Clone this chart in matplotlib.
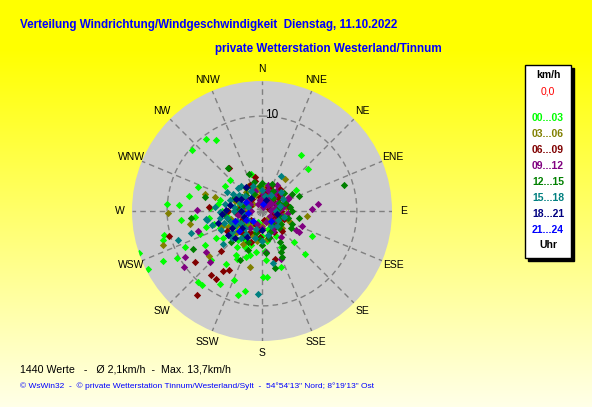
import numpy as np
import matplotlib
matplotlib.use("Agg")
import matplotlib.pyplot as plt
from matplotlib.patches import Rectangle

# wind direction (deg, from N clockwise) and speed (km/h), one pair of lists per time slot
DIR_00_03 = [322, 327, 311, 34.9, 47.4, 313.5, 303.5, 290.6, 281.5, 274, 274, 263.4, 256, 253.5, 251, 243,
             243, 241, 222, 219, 210, 202, 196, 192, 179, 175.7, 160.7, 134, 135, 116, 59, 66, 214, 208, 199,
             188, 175, 152, 245, 239, 226, 265, 254, 250, 279.5, 273, 235, 55, 344, 9.6,
             200, 210, 220, 230, 240, 250, 260, 270, 215, 235, 245, 225, 190, 180, 170, 160, 255, 265, 280,
             290, 205, 195, 150, 240, 100, 60, 20,
             185, 200, 215, 230, 245, 260, 275, 285, 210, 220, 232, 248, 262, 198, 175, 140, 120]
SPD_00_03 = [9.6, 8.9, 9.8, 7.2, 6.6, 4.7, 4.7, 7.2, 7.8, 10.0, 8.8, 8.6, 10.6, 10.9, 13.7, 13.5,
             11.7, 10.3, 10.1, 10.1, 8.9, 7.8, 9.2, 8.6, 7.0, 7.0, 6.2, 4.7, 6.4, 5.9, 4.2, 2.8, 6.7, 5.7, 5.1,
             4.4, 5.2, 4.3, 9.0, 7.0, 7.5, 7.1, 6.1, 7.0, 4.7, 5.5, 4.2, 2.5, 4.1, 2.7,
             2.5, 3.5, 3.0, 4.0, 3.2, 4.4, 3.6, 4.2, 4.6, 5.0, 2.4, 2.0, 3.0, 2.6, 3.2, 2.0, 5.2, 2.8, 3.4,
             2.6, 4.2, 4.8, 3.0, 5.6, 2.4, 1.6, 1.4,
             1.5, 1.2, 1.8, 2.4, 3.8, 2.0, 2.6, 4.6, 5.4, 4.0, 3.4, 4.8, 5.6, 3.8, 4.2, 2.2, 1.6]

DIR_03_06 = [269, 251, 260, 286.5, 192.6, 36, 96.8, 100, 230, 287, 290, 358,
             0, 20, 40, 60, 80, 100, 120, 140, 160, 180, 200, 220, 240, 260, 280, 300, 320, 340,
             210, 250, 230, 270, 190, 50, 110, 290,
             10, 30, 70, 90, 130, 150, 170, 195, 215, 235, 255, 265, 285, 310, 330, 350, 245]
SPD_03_06 = [9.9, 11.0, 7.7, 5.2, 6.0, 4.2, 4.8, 2.1, 7.3, 6.3, 2.3, 2.0,
             1.0, 1.8, 2.4, 0.9, 2.6, 1.8, 2.2, 1.0, 2.4, 1.6, 2.8, 2.0, 3.0, 2.4, 1.4, 2.0, 2.6, 1.8,
             4.0, 4.5, 3.6, 3.8, 3.2, 1.5, 3.0, 3.0,
             2.6, 1.2, 1.8, 1.2, 2.8, 1.6, 3.0, 1.8, 3.0, 2.2, 3.4, 1.8, 2.4, 1.2, 3.0, 2.6, 4.0]

DIR_06_09 = [349, 347.5, 323, 274, 255, 233, 218.5, 214, 218, 213, 209, 165, 226,
             350, 10, 30, 60, 90, 110, 130, 150, 170, 190, 210, 230, 250, 260, 280, 300, 320, 340,
             20, 45, 75, 200, 240, 270, 135, 100,
             0, 15, 40, 55, 80, 95, 120, 145, 165, 185, 205, 225, 245, 265, 290, 310, 335]
SPD_06_09 = [3.7, 3.2, 5.7, 5.6, 10.1, 8.9, 8.6, 8.6, 11.2, 7.5, 7.1, 5.2, 6.0,
             1.5, 2.0, 1.2, 1.6, 2.0, 2.5, 1.8, 2.6, 1.0, 2.0, 2.5, 1.5, 3.0, 1.8, 2.2, 2.8, 1.6, 2.4,
             2.8, 2.4, 0.8, 3.5, 4.2, 3.6, 3.0, 1.2,
             1.0, 2.6, 3.0, 2.2, 2.8, 1.6, 1.4, 2.2, 2.8, 2.8, 1.6, 3.2, 2.4, 2.8, 1.4, 2.2, 3.0]

DIR_09_12 = [82.6, 88, 110.5, 119, 239, 234, 270.6, 233.6, 225.7, 158, 174, 61.5, 252.6,
             10, 25, 40, 55, 70, 85, 15, 35, 60, 80, 100, 5, 350, 330, 20, 45, 120, 95, 65, 300,
             250, 270, 200, 230, 160, 140, 119, 144, 30, 75,
             0, 12, 28, 42, 50, 62, 72, 88, 105, 130, 150, 180, 215, 260, 285, 315, 340, 8]
SPD_09_12 = [6.0, 5.3, 4.5, 4.5, 9.5, 10.1, 6.9, 7.3, 7.7, 5.4, 4.3, 3.2, 7.1,
             1.0, 1.5, 2.0, 1.2, 1.8, 1.0, 2.3, 2.6, 2.5, 2.2, 1.5, 1.8, 1.2, 0.8, 0.6, 0.9, 1.0, 2.8, 3.0, 1.5,
             2.0, 1.2, 1.5, 2.8, 1.2, 2.0, 4.1, 3.4, 3.2, 1.4,
             1.4, 2.8, 2.0, 1.4, 2.8, 1.8, 2.4, 1.8, 2.2, 1.6, 2.4, 1.8, 2.2, 2.6, 2.0, 1.8, 2.2, 0.4]

DIR_12_15 = [72.6, 68.4, 322, 341, 241, 264, 204, 167, 113, 82, 157, 283.7, 150,
             30, 50, 70, 90, 105, 120, 135, 150, 165, 180, 195, 215, 235, 255, 275, 295, 315, 335, 355,
             10, 80, 140, 200, 225, 100, 60,
             20, 40, 65, 110, 125, 160, 185, 205, 245, 265, 285, 305, 325, 345, 0, 175, 155]
SPD_12_15 = [9.1, 4.2, 5.8, 4.1, 8.3, 7.5, 5.7, 6.2, 3.4, 3.0, 5.3, 6.2, 4.4,
             2.4, 3.0, 2.6, 3.2, 2.8, 3.5, 2.6, 3.8, 3.0, 3.6, 2.4, 3.4, 2.6, 3.6, 2.8, 3.2, 2.4, 2.0, 2.6,
             1.6, 1.8, 1.6, 4.4, 4.6, 4.0, 3.6,
             3.0, 1.8, 2.0, 2.0, 2.4, 2.4, 3.0, 3.6, 3.0, 4.0, 2.2, 2.6, 3.0, 3.2, 3.0, 4.4, 4.8]

DIR_15_18 = [29, 182.7, 253, 168, 251, 260.5, 314,
             240, 250, 260, 270, 280, 290, 300, 255, 265, 275, 245, 235, 285, 310, 320, 230, 225, 215,
             200, 340, 0, 30, 60, 90, 150, 180, 120,
             238, 248, 258, 268, 278, 288, 298, 262, 252, 242, 228, 218, 305, 330, 10, 45, 75, 105, 135,
             165, 195, 272]
SPD_15_18 = [4.2, 8.8, 7.8, 5.6, 9.4, 5.9, 3.5,
             2.5, 3.5, 4.5, 3.0, 4.0, 2.5, 3.5, 5.5, 2.0, 5.0, 4.8, 3.8, 1.5, 2.4, 3.4, 5.4, 2.6, 3.0,
             2.0, 2.8, 2.2, 2.0, 2.6, 1.5, 1.8, 3.2, 2.0,
             1.8, 2.8, 3.8, 4.4, 3.0, 3.6, 4.2, 6.0, 4.2, 3.2, 4.2, 3.6, 3.0, 2.4, 1.6, 2.8, 2.0, 2.4, 2.2,
             2.6, 3.0, 2.2]

DIR_18_21 = [327, 250, 270, 280, 240, 230, 300, 265, 210, 320, 20, 100, 180, 255, 235, 272, 225, 295]
SPD_18_21 = [3.0, 2.0, 2.2, 3.4, 3.6, 2.8, 2.6, 4.2, 3.2, 1.8, 1.2, 1.6, 2.0, 4.8, 4.4, 3.8, 4.0, 3.0]

DIR_21_24 = [260, 240, 220, 300, 10, 140, 250, 230]
SPD_21_24 = [1.5, 2.0, 1.4, 2.0, 0.8, 1.4, 3.0, 3.2]

SLOTS = ["00...03", "03...06", "06...09", "09...12", "12...15", "15...18", "18...21", "21...24"]
SLOT_COLORS = ["#00ff00", "#808000", "#800000", "#800080", "#008000", "#008080", "#000080", "#0000ff"]
SERIES = [(DIR_00_03, SPD_00_03), (DIR_03_06, SPD_03_06), (DIR_06_09, SPD_06_09), (DIR_09_12, SPD_09_12),
          (DIR_12_15, SPD_12_15), (DIR_15_18, SPD_15_18), (DIR_18_21, SPD_18_21), (DIR_21_24, SPD_21_24)]

COMPASS = ["N", "NNE", "NE", "ENE", "E", "ESE", "SE", "SSE",
           "S", "SSW", "SW", "WSW", "W", "WNW", "NW", "NNW"]
MAX_SPEED = 13.7
TITLE = "Verteilung Windrichtung/Windgeschwindigkeit  Dienstag, 11.10.2022"
SUBTITLE = "private Wetterstation Westerland/Tinnum"
SUMMARY = "1440 Werte   -   \u00d8 2,1km/h  -  Max. 13,7km/h"
FOOTER = "\u00a9 WsWin32  -  \u00a9 private Wetterstation Tinnum/Westerland/Sylt  -  54\u00b054'13\" Nord; 8\u00b019'13\" Ost"

W, H = 592, 407
plt.rcParams['font.family'] = ['Liberation Sans', 'DejaVu Sans']

fig = plt.figure(figsize=(W / 100, H / 100), dpi=100)


def fx(x):
    return x / W


def fy(y):
    return 1 - y / H


# yellow gradient background
bg = fig.add_axes([0, 0, 1, 1])
rows = np.linspace(0, 1, H)
blue = np.clip((rows - 0.12) / 0.88, 0, 1) * 232
img = np.ones((H, 1, 3))
img[:, 0, 2] = blue / 255
bg.imshow(img, aspect='auto', extent=[0, 1, 0, 1], origin='upper')
bg.set_axis_off()

# polar plot
cx, cy, rad = 262, 211, 130
ax = fig.add_axes([fx(cx - rad), fy(cy + rad), 2 * rad / W, 2 * rad / H], projection='polar')
ax.set_theta_zero_location('N')
ax.set_theta_direction(-1)
ax.set_facecolor('#cdcdcd')
ax.spines['polar'].set_visible(False)
ax.set_ylim(0, MAX_SPEED)
ax.set_rticks([10])
ax.set_yticklabels([])
ax.text(np.deg2rad(6), 10.2, '10', fontsize=8.5, ha='center', va='center', zorder=2)
ax.set_xticks(np.deg2rad(np.arange(0, 360, 22.5)))
ax.set_xticklabels(COMPASS, fontsize=7.5)
ax.tick_params(axis='x', pad=1.5, length=0)
ax.grid(color='#808080', linestyle=(0, (4, 3)), linewidth=1)

for (d, s), col in zip(SERIES, SLOT_COLORS):
    ax.scatter(np.deg2rad(d), s, marker='D', s=14, color=col, linewidths=0, zorder=3)

# titles
fig.text(fx(20), fy(25), TITLE, color='#0000ff', fontsize=8.4, fontweight='bold',
         va='center', ha='left')
fig.text(fx(215), fy(49), SUBTITLE, color='#0000ff', fontsize=8.4, fontweight='bold',
         va='center', ha='left')

# legend box
bx0, by0, bx1, by1 = 525, 65, 571, 258
fig.patches.append(Rectangle((fx(bx0 + 3), fy(by1 + 3)), (bx1 - bx0) / W, (by1 - by0) / H,
                             transform=fig.transFigure, facecolor='black', edgecolor='black'))
fig.patches.append(Rectangle((fx(bx0), fy(by1)), (bx1 - bx0) / W, (by1 - by0) / H,
                             transform=fig.transFigure, facecolor='white', edgecolor='black', linewidth=1))
lx = (bx0 + bx1) / 2
fig.text(fx(lx), fy(75), "km/h", fontsize=7.5, fontweight='bold', ha='center', va='center')
fig.text(fx(lx), fy(91), "0,0", fontsize=7.5, color='#ff0000', ha='center', va='center')
for i, (lab, col) in enumerate(zip(SLOTS, SLOT_COLORS)):
    fig.text(fx(lx), fy(118 + 16 * i), lab, fontsize=7.5, fontweight='bold', color=col,
             ha='center', va='center')
fig.text(fx(lx), fy(245), "Uhr", fontsize=7.5, fontweight='bold', ha='center', va='center')

# bottom texts
fig.text(fx(20), fy(369), SUMMARY, fontsize=7.7, ha='left', va='center')
fig.text(fx(20), fy(386), FOOTER, fontsize=6, color='#0000ff', ha='left', va='center')

fig.savefig('out.png', dpi=100)
